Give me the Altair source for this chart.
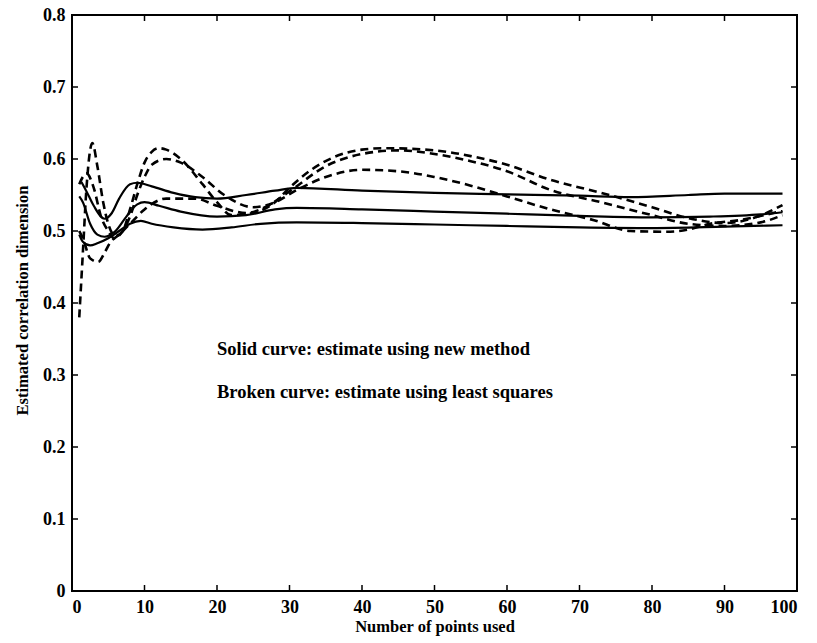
import altair as alt
import pandas as pd

# ---- data ----
solid1_x = [1.3, 2, 3, 4.5, 5.5, 6.5, 8, 9, 11, 14, 17, 20, 24, 28, 31, 40, 50, 60, 70, 77, 85, 90, 98]
solid1_y = [0.568, 0.555, 0.535, 0.517, 0.525, 0.545, 0.565, 0.567, 0.562, 0.553, 0.547, 0.545, 0.55, 0.556, 0.56, 0.556, 0.553, 0.551, 0.549, 0.547, 0.55, 0.552, 0.552]

solid2_x = [1, 1.5, 2.5, 3.5, 4.5, 6, 7.5, 9, 10, 12, 15, 20, 24, 28, 31, 40, 50, 60, 70, 80, 88, 95, 98]
solid2_y = [0.548, 0.54, 0.51, 0.495, 0.492, 0.5, 0.52, 0.537, 0.54, 0.535, 0.527, 0.52, 0.522, 0.53, 0.532, 0.53, 0.527, 0.524, 0.521, 0.519, 0.52, 0.523, 0.526]

solid3_x = [1, 1.5, 2.5, 3.5, 5, 6.5, 8, 9.5, 11, 14, 18, 22, 26, 31, 40, 50, 60, 70, 80, 90, 98]
solid3_y = [0.495, 0.485, 0.48, 0.483, 0.49, 0.5, 0.51, 0.514, 0.51, 0.505, 0.502, 0.505, 0.51, 0.512, 0.511, 0.509, 0.507, 0.505, 0.504, 0.506, 0.508]

dashA_x = [1, 1.5, 2, 2.8, 3.5, 4.3, 5, 6, 7, 8, 9, 10, 11, 12, 13, 15, 18, 20, 22, 25, 28, 30, 33, 36, 40, 43, 50, 55, 60, 66, 73, 80, 85, 90, 94, 98]
dashA_y = [0.38, 0.47, 0.56, 0.622, 0.59, 0.54, 0.51, 0.493, 0.5, 0.53, 0.565, 0.595, 0.61, 0.615, 0.613, 0.6, 0.565, 0.54, 0.522, 0.525, 0.54, 0.56, 0.585, 0.602, 0.613, 0.615, 0.612, 0.604, 0.592, 0.571, 0.553, 0.533, 0.518, 0.511, 0.518, 0.536]

dashB_x = [1, 2, 3, 4, 5, 5.8, 7, 8, 9, 10, 11, 13, 15, 18, 21, 25, 28, 31, 35, 40, 45, 50, 55, 60, 66, 72, 77, 82, 85, 88, 92, 98]
dashB_y = [0.565, 0.58, 0.56, 0.52, 0.5, 0.49, 0.5, 0.52, 0.55, 0.575, 0.592, 0.6, 0.595, 0.575, 0.55, 0.533, 0.54, 0.557, 0.575, 0.585, 0.583, 0.575, 0.563, 0.548, 0.53, 0.515, 0.5, 0.499, 0.502, 0.51, 0.515, 0.528]

dashC_x = [1, 1.5, 2.5, 3.6, 4.5, 5.2, 6.5, 8, 10, 13, 17, 20, 24, 27, 30, 35, 40, 45, 50, 55, 60, 66, 73, 80, 85, 90, 95, 98]
dashC_y = [0.5, 0.49, 0.462, 0.457, 0.47, 0.483, 0.495, 0.51, 0.53, 0.545, 0.545, 0.535, 0.525, 0.535, 0.555, 0.59, 0.607, 0.612, 0.607, 0.597, 0.583, 0.557, 0.54, 0.522, 0.51, 0.507, 0.512, 0.522]

x_ticks = [0, 10, 20, 30, 40, 50, 60, 70, 80, 90, 100]
y_ticks = [0, 0.1, 0.2, 0.3, 0.4, 0.5, 0.6, 0.7, 0.8]

notes = ["Solid curve: estimate using new method",
         "Broken curve: estimate using least squares"]

# ---- build tables ----
rows = []
for name, kind, xs, ys in [
    ("s1", "solid", solid1_x, solid1_y),
    ("s2", "solid", solid2_x, solid2_y),
    ("s3", "solid", solid3_x, solid3_y),
    ("dA", "dashed", dashA_x, dashA_y),
    ("dB", "dashed", dashB_x, dashB_y),
    ("dC", "dashed", dashC_x, dashC_y),
]:
    for i, (a, b) in enumerate(zip(xs, ys)):
        rows.append({"curve": name, "kind": kind, "x": a, "y": b, "order": i})
df = pd.DataFrame(rows)

W, H = 725, 576
FONT = "Liberation Serif"

xscale = alt.Scale(domain=[0, 100], nice=False, zero=False)
yscale = alt.Scale(domain=[0, 0.8], nice=False, zero=False)

xaxis = alt.Axis(values=x_ticks, title="Number of points used", ticks=False, domain=False,
                 grid=False, labelFont=FONT, labelFontSize=18, labelFontWeight="bold",
                 labelColor="black", labelPadding=7, titleFont=FONT, titleFontSize=16.5,
                 titleFontWeight="bold", titleColor="black", titlePadding=2, format="d")
yaxis = alt.Axis(values=y_ticks, title="Estimated correlation dimension", ticks=False, domain=False,
                 grid=False, labelFont=FONT, labelFontSize=18, labelFontWeight="bold",
                 labelColor="black", labelPadding=7, format="~g",
                 titleFont=FONT, titleFontSize=16.5, titleFontWeight="bold", titleColor="black",
                 titleX=-50, titleY=285, titleAngle=270, titleBaseline="middle")

base = alt.Chart(df)

solid = base.transform_filter(alt.datum.kind == "solid").mark_line(
    color="black", strokeWidth=2.2, interpolate="monotone", clip=True
).encode(
    x=alt.X("x:Q", scale=xscale, axis=xaxis),
    y=alt.Y("y:Q", scale=yscale, axis=yaxis),
    detail="curve:N",
    order="order:Q",
)

dashed = base.transform_filter(alt.datum.kind == "dashed").mark_line(
    color="black", strokeWidth=2.6, strokeDash=[8, 5], interpolate="monotone", clip=True
).encode(
    x=alt.X("x:Q", scale=xscale),
    y=alt.Y("y:Q", scale=yscale),
    detail="curve:N",
    order="order:Q",
)

xt = pd.DataFrame({"t": x_ticks})
yt = pd.DataFrame({"t": y_ticks})

tick_bottom = alt.Chart(xt).mark_rule(color="black", strokeWidth=1.5).encode(
    x=alt.X("t:Q", scale=xscale), y=alt.value(H), y2=alt.value(H - 6))
tick_top = alt.Chart(xt).mark_rule(color="black", strokeWidth=1.5).encode(
    x=alt.X("t:Q", scale=xscale), y=alt.value(0), y2=alt.value(6))
tick_left = alt.Chart(yt).mark_rule(color="black", strokeWidth=1.5).encode(
    y=alt.Y("t:Q", scale=yscale), x=alt.value(0), x2=alt.value(6))
tick_right = alt.Chart(yt).mark_rule(color="black", strokeWidth=1.5).encode(
    y=alt.Y("t:Q", scale=yscale), x=alt.value(W), x2=alt.value(W - 6))

note1 = alt.Chart(pd.DataFrame({"t": [notes[0]]})).mark_text(
    font=FONT, fontSize=18.5, fontWeight="bold", align="left", baseline="middle", color="black"
).encode(text="t:N", x=alt.value(145), y=alt.value(334))
note2 = alt.Chart(pd.DataFrame({"t": [notes[1]]})).mark_text(
    font=FONT, fontSize=18.5, fontWeight="bold", align="left", baseline="middle", color="black"
).encode(text="t:N", x=alt.value(145), y=alt.value(377))

chart = alt.layer(
    solid, dashed, tick_bottom, tick_top, tick_left, tick_right, note1, note2
).properties(
    width=W, height=H,
    autosize=alt.AutoSizeParams(type="none"),
    padding={"left": 72, "top": 15, "right": 20, "bottom": 52},
    background="white",
).configure_view(stroke="black", strokeWidth=2)

chart.save("out.html", embed_options={"renderer": "svg", "actions": False})
